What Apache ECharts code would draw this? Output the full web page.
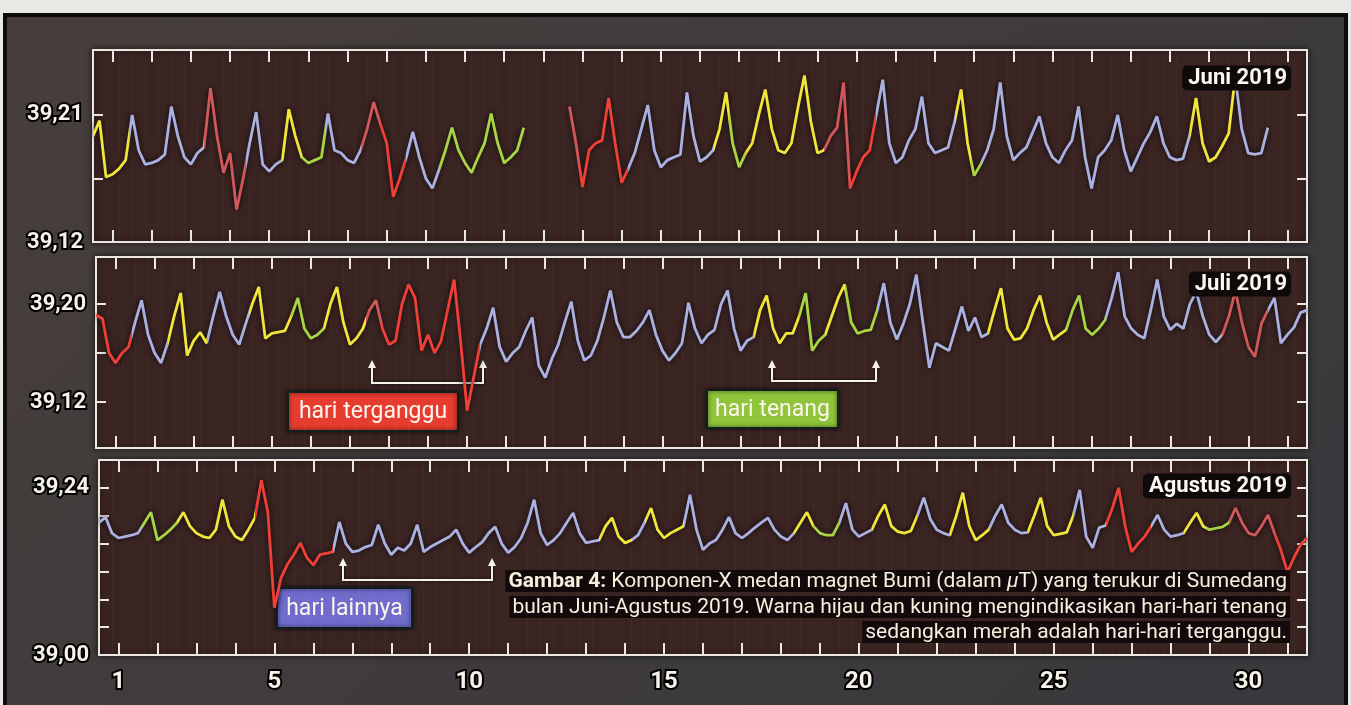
<!DOCTYPE html>
<html>
<head>
<meta charset="utf-8">
<script src="https://cdn.jsdelivr.net/npm/echarts@6/dist/echarts.min.js"></script>
<style>
  html, body { margin: 0; padding: 0; background: #e9e8e5; overflow: hidden; }
  #frame { position: absolute; left: 3px; top: 13px; width: 1345px; height: 700px; box-sizing: border-box;
           border: 4px solid #0d0b0b; border-bottom: none; background: linear-gradient(135deg, #473e3c, #38383c); }
  #chart { position: absolute; left: 0; top: 0; width: 1351px; height: 705px; }
</style>
</head>
<body>
<div id="frame"></div>
<div id="chart"></div>
<script>
'use strict'

// komponen-X (uT), 6 sampel per hari (tiap 4 jam), mulai hari ke-0.5
const STEPS_PER_DAY = 6;

const juniValues = [
  39.195, 39.206, 39.166, 39.168, 39.172, 39.178,
  39.210, 39.185, 39.175, 39.176, 39.178, 39.182,
  39.216, 39.195, 39.180, 39.175, 39.183, 39.187,
  39.229, 39.195, 39.169, 39.183, 39.143, 39.165,
  39.190, 39.212, 39.175, 39.170, 39.175, 39.178,
  39.214, 39.195, 39.180, 39.176, 39.178, 39.180,
  39.211, 39.185, 39.183, 39.178, 39.176, 39.185,
  39.200, 39.219, 39.204, 39.190, 39.152, 39.165,
  39.180, 39.198, 39.180, 39.165, 39.158, 39.171,
  39.185, 39.201, 39.185, 39.176, 39.169, 39.180,
  39.190, 39.211, 39.190, 39.176, 39.180, 39.185,
  39.201, null, null, null, null, null,
  null, 39.216, 39.190, 39.159, 39.185, 39.190,
  39.192, 39.222, 39.190, 39.162, 39.172, 39.183,
  39.200, 39.217, 39.185, 39.173, 39.178, 39.180,
  39.182, 39.226, 39.195, 39.177, 39.180, 39.185,
  39.200, 39.226, 39.190, 39.173, 39.183, 39.190,
  39.210, 39.228, 39.200, 39.185, 39.183, 39.190,
  39.215, 39.238, 39.205, 39.183, 39.185, 39.195,
  39.201, 39.233, 39.158, 39.170, 39.180, 39.185,
  39.210, 39.235, 39.190, 39.176, 39.180, 39.192,
  39.200, 39.223, 39.190, 39.183, 39.185, 39.187,
  39.205, 39.228, 39.190, 39.167, 39.175, 39.185,
  39.200, 39.233, 39.195, 39.178, 39.183, 39.187,
  39.198, 39.209, 39.190, 39.180, 39.176, 39.185,
  39.192, 39.216, 39.180, 39.158, 39.180, 39.185,
  39.192, 39.210, 39.185, 39.170, 39.180, 39.190,
  39.198, 39.209, 39.190, 39.180, 39.178, 39.179,
  39.195, 39.222, 39.190, 39.177, 39.180, 39.188,
  39.197, 39.237, 39.200, 39.183, 39.182, 39.183,
  39.201, null, null, null, null, null,
  null
];

const juliValues = [
  39.191, 39.188, 39.160, 39.152, 39.160, 39.165,
  39.185, 39.203, 39.175, 39.160, 39.152, 39.168,
  39.190, 39.209, 39.158, 39.170, 39.177, 39.168,
  39.190, 39.210, 39.190, 39.175, 39.167, 39.184,
  39.200, 39.214, 39.172, 39.176, 39.177, 39.178,
  39.190, 39.205, 39.180, 39.172, 39.175, 39.180,
  39.200, 39.214, 39.185, 39.167, 39.172, 39.180,
  39.195, 39.203, 39.180, 39.167, 39.170, 39.200,
  39.216, 39.205, 39.162, 39.175, 39.160, 39.170,
  39.195, 39.220, 39.170, 39.113, 39.140, 39.167,
  39.180, 39.197, 39.165, 39.153, 39.160, 39.165,
  39.178, 39.189, 39.150, 39.140, 39.155, 39.167,
  39.185, 39.202, 39.170, 39.154, 39.158, 39.170,
  39.189, 39.211, 39.185, 39.173, 39.173, 39.178,
  39.185, 39.195, 39.175, 39.162, 39.154, 39.160,
  39.168, 39.201, 39.180, 39.168, 39.175, 39.179,
  39.200, 39.211, 39.180, 39.162, 39.170, 39.173,
  39.195, 39.207, 39.180, 39.168, 39.176, 39.176,
  39.190, 39.209, 39.162, 39.170, 39.175, 39.190,
  39.205, 39.216, 39.185, 39.176, 39.178, 39.179,
  39.195, 39.217, 39.185, 39.171, 39.184, 39.200,
  39.224, 39.185, 39.148, 39.168, 39.165, 39.162,
  39.180, 39.198, 39.178, 39.189, 39.173, 39.176,
  39.195, 39.213, 39.180, 39.171, 39.172, 39.180,
  39.195, 39.207, 39.185, 39.171, 39.175, 39.179,
  39.195, 39.207, 39.180, 39.175, 39.180, 39.187,
  39.205, 39.226, 39.190, 39.180, 39.175, 39.172,
  39.195, 39.220, 39.190, 39.179, 39.184, 39.180,
  39.200, 39.210, 39.190, 39.175, 39.169, 39.175,
  39.190, 39.211, 39.185, 39.165, 39.157, 39.184,
  39.195, 39.205, 39.168, 39.175, 39.181, 39.193,
  39.195
];

const agustusValues = [
  39.190, 39.198, 39.175, 39.168, 39.170, 39.172,
  39.175, 39.190, 39.205, 39.165, 39.172, 39.180,
  39.190, 39.205, 39.185, 39.175, 39.170, 39.168,
  39.180, 39.223, 39.185, 39.170, 39.165, 39.180,
  39.197, 39.251, 39.205, 39.068, 39.110, 39.130,
  39.144, 39.161, 39.140, 39.129, 39.144, 39.146,
  39.148, 39.191, 39.160, 39.148, 39.150, 39.155,
  39.158, 39.187, 39.160, 39.144, 39.154, 39.150,
  39.160, 39.187, 39.148, 39.155, 39.160, 39.165,
  39.170, 39.180, 39.160, 39.147, 39.155, 39.162,
  39.175, 39.184, 39.160, 39.147, 39.155, 39.168,
  39.190, 39.223, 39.175, 39.158, 39.165, 39.175,
  39.190, 39.204, 39.175, 39.161, 39.163, 39.165,
  39.185, 39.197, 39.170, 39.161, 39.165, 39.172,
  39.190, 39.211, 39.180, 39.168, 39.175, 39.180,
  39.185, 39.230, 39.180, 39.151, 39.160, 39.165,
  39.180, 39.198, 39.175, 39.168, 39.175, 39.183,
  39.190, 39.197, 39.180, 39.170, 39.165, 39.175,
  39.190, 39.205, 39.185, 39.175, 39.172, 39.172,
  39.190, 39.218, 39.180, 39.170, 39.175, 39.180,
  39.200, 39.216, 39.185, 39.177, 39.175, 39.178,
  39.200, 39.226, 39.195, 39.180, 39.175, 39.172,
  39.200, 39.233, 39.185, 39.165, 39.172, 39.180,
  39.200, 39.216, 39.190, 39.180, 39.175, 39.176,
  39.200, 39.226, 39.185, 39.172, 39.174, 39.176,
  39.200, 39.237, 39.170, 39.154, 39.183, 39.186,
  39.210, 39.240, 39.185, 39.148, 39.160, 39.170,
  39.185, 39.201, 39.180, 39.170, 39.172, 39.175,
  39.190, 39.204, 39.185, 39.180, 39.182, 39.184,
  39.190, 39.211, 39.190, 39.175, 39.172, 39.185,
  39.201, 39.175, 39.150, 39.119, 39.140, 39.158,
  39.168
];

// jenis hari: [sampel awal, sampel akhir, jenis]
// Y kuning / G hijau = tenang, R / P = terganggu, B = lainnya
const juniTypes = [
  [0, 5.5, 'Y'], [5.5, 17, 'B'], [17, 23.5, 'P'], [23.5, 29, 'B'], [29, 32, 'Y'], [32, 35.5, 'G'],
  [35.5, 41, 'B'], [41, 44, 'P'], [44, 48, 'R'], [48, 53, 'B'], [53, 67, 'G'],
  [72, 74.5, 'P'], [74.5, 82, 'R'], [82, 95, 'B'], [95, 97.5, 'Y'], [97.5, 100, 'G'], [100, 112, 'Y'],
  [112, 116, 'P'], [116, 120, 'R'], [120, 132, 'B'], [132, 134.5, 'Y'], [134.5, 136, 'G'],
  [136, 168, 'B'], [168, 175, 'Y'], [175, 187, 'B']
];
const juliTypes = [
  [0, 5.5, 'R'], [5.5, 11, 'B'], [11, 17, 'Y'], [17, 23.5, 'B'], [23.5, 30, 'Y'], [30, 35, 'G'],
  [35, 41.5, 'Y'], [41.5, 44, 'P'], [44, 59, 'R'], [59, 101, 'B'], [101, 108, 'Y'], [108, 112, 'G'],
  [112, 115, 'Y'], [115, 120, 'G'], [120, 137, 'B'], [137, 149, 'Y'], [149, 155, 'G'],
  [155, 173, 'B'], [173, 180, 'P'], [180, 187, 'B']
];
const agustusTypes = [
  [0, 6.5, 'B'], [6.5, 12, 'G'], [12, 18, 'Y'], [18, 24, 'Y'], [24, 36, 'R'], [36, 77, 'B'],
  [77, 82, 'Y'], [82, 84, 'B'], [84, 90, 'Y'], [90, 107, 'B'], [107, 110, 'Y'], [110, 114, 'G'],
  [114, 119, 'B'], [119, 126, 'Y'], [126, 131, 'B'], [131, 137, 'Y'], [137, 143, 'B'],
  [143, 150, 'Y'], [150, 155, 'B'], [155, 162, 'R'], [162, 167, 'B'], [167, 170.5, 'Y'],
  [170.5, 174, 'G'], [174, 181, 'P'], [181, 187, 'R']
];

const dayTicks = [1, 2, 3, 4, 5, 6, 7, 8, 9, 10, 11, 12, 13, 14, 15, 16, 17, 18, 19, 20,
  21, 22, 23, 24, 25, 26, 27, 28, 29, 30, 31];
const dayLabels = [1, 5, 10, 15, 20, 25, 30];

const juniYTicks = [39.165, 39.21], juniYLabels = [39.12, 39.21];
const juliYTicks = [39.12, 39.16, 39.20], juliYLabels = [39.12, 39.20];
const agustusYTicks = [39.04, 39.08, 39.12, 39.16, 39.20, 39.24], agustusYLabels = [39.00, 39.24];

const palette = { Y: '#f1e43a', G: '#a9d443', B: '#aab0e0', R: '#ee4036', P: '#d0575a' };
const WHITE = '#ece8e1';
const FONT = 'Roboto, "Noto Sans", sans-serif';

const panels = [
  { title: 'Juni 2019', values: juniValues, types: juniTypes, min: 39.12, max: 39.256,
    ticks: juniYTicks, labels: juniYLabels, grid: { left: 93, top: 50, width: 1214, height: 192 } },
  { title: 'Juli 2019', values: juliValues, types: juliTypes, min: 39.0825, max: 39.2384,
    ticks: juliYTicks, labels: juliYLabels, grid: { left: 96, top: 257, width: 1211, height: 191 } },
  { title: 'Agustus 2019', values: agustusValues, types: agustusTypes, min: 39.0, max: 39.28,
    ticks: agustusYTicks, labels: agustusYLabels, grid: { left: 99, top: 460, width: 1208, height: 195 } }
];

const sampleX = (i) => 0.5 + i / STEPS_PER_DAY;

let grid = [], xAxis = [], yAxis = [], series = [], visualMap = [];
panels.forEach((p, k) => {
  grid.push(Object.assign({
    show: true, backgroundColor: '#3a2422', borderColor: WHITE, borderWidth: 2,
    shadowColor: 'rgba(0,0,0,0.6)', shadowBlur: 6
  }, p.grid));
  let xBase = {
    type: 'value', gridIndex: k, min: 0.5, max: 31.5,
    axisLine: { show: false, onZero: false }, splitLine: { show: false }
  };
  // sumbu bawah (dengan label hari di panel terakhir)
  xAxis.push(Object.assign({}, xBase, {
    position: 'bottom',
    axisTick: { show: true, inside: true, length: 12, customValues: dayTicks, lineStyle: { color: WHITE, width: 2 } },
    axisLabel: {
      show: k === panels.length - 1, customValues: dayLabels, margin: 15,
      color: '#f6f2ea', fontSize: 24, fontWeight: 'bold', fontFamily: FONT,
      textBorderColor: '#000', textBorderWidth: 4
    }
  }));
  // sumbu atas (hanya tick)
  xAxis.push(Object.assign({}, xBase, {
    position: 'top',
    axisTick: { show: true, inside: true, length: 12, customValues: dayTicks, lineStyle: { color: WHITE, width: 2 } },
    axisLabel: { show: false }
  }));
  // garis vertikal samar di latar
  xAxis.push(Object.assign({}, xBase, {
    position: 'bottom', interval: 1 / 3, min: 0.5,
    axisTick: { show: false }, axisLabel: { show: false },
    splitLine: { show: true, lineStyle: { color: 'rgba(255,235,230,0.035)', width: 1 } }
  }));

  let yBase = {
    type: 'value', gridIndex: k, min: p.min, max: p.max, scale: true,
    axisLine: { show: false }, splitLine: { show: false }
  };
  yAxis.push(Object.assign({}, yBase, {
    position: 'left',
    axisTick: { show: true, inside: true, length: 10, customValues: p.ticks, lineStyle: { color: WHITE, width: 2 } },
    axisLabel: {
      customValues: p.labels, margin: 10,
      formatter: (v) => v.toFixed(2).replace('.', ','),
      color: '#f6f2ea', fontSize: 22, fontWeight: 'bold', fontFamily: FONT,
      textBorderColor: '#000', textBorderWidth: 4
    }
  }));
  yAxis.push(Object.assign({}, yBase, {
    position: 'right',
    axisTick: { show: true, inside: true, length: 10, customValues: p.ticks, lineStyle: { color: WHITE, width: 2 } },
    axisLabel: { show: false }
  }));

  series.push({
    name: p.title, type: 'line', xAxisIndex: k * 3, yAxisIndex: k * 2,
    data: p.values.map((v, i) => [sampleX(i), v == null ? '-' : v]),
    showSymbol: false, symbol: 'none', connectNulls: false, silent: true,
    lineStyle: { width: 2.8, shadowColor: 'rgba(0,0,0,0.9)', shadowBlur: 6 }
  });
  visualMap.push({
    type: 'piecewise', show: false, seriesIndex: k, dimension: 0,
    pieces: p.types.map((t) => ({ gte: sampleX(t[0]), lt: sampleX(t[1]), color: palette[t[2]] })),
    outOfRange: { color: palette.B }
  });
});

// teks dan anotasi
const monthLabel = (text, y) => ({
  type: 'text', x: 1291, y: y, z: 100,
  style: {
    text: text, align: 'right', verticalAlign: 'middle', fill: '#fbf8f2',
    font: 'bold 22px ' + FONT, backgroundColor: '#0e0a0a', padding: [2, 4, 1, 6], borderRadius: 5
  }
});
const tagBox = (text, x, y, w, h, color) => ({
  type: 'group', z: 100, children: [
    { type: 'rect', shape: { x: x, y: y, width: w, height: h },
      style: { fill: color, stroke: '#10201c', lineWidth: 2, shadowColor: 'rgba(0,0,0,0.7)', shadowBlur: 4 } },
    { type: 'text', x: x + w / 2, y: y + h / 2 + 1,
      style: { text: text, align: 'center', verticalAlign: 'middle', fill: '#fbf6ee', font: '23px ' + FONT } }
  ]
});
const bracket = (x1, x2, yTop, yLine) => ({
  type: 'group', z: 100, children: [
    { type: 'polyline', shape: { points: [[x1, yTop + 6], [x1, yLine], [x2, yLine], [x2, yTop + 6]] },
      style: { stroke: '#f4f0ea', lineWidth: 2, fill: null, shadowColor: 'rgba(0,0,0,0.9)', shadowBlur: 3 } },
    { type: 'polygon', shape: { points: [[x1 - 4, yTop + 8], [x1 + 4, yTop + 8], [x1, yTop]] }, style: { fill: '#f4f0ea' } },
    { type: 'polygon', shape: { points: [[x2 - 4, yTop + 8], [x2 + 4, yTop + 8], [x2, yTop]] }, style: { fill: '#f4f0ea' } }
  ]
});
const captionLine = (text, y) => ({
  type: 'text', x: 1290, y: y, z: 100,
  style: {
    text: text, align: 'right', verticalAlign: 'middle', fill: '#f6f0de', font: '21px ' + FONT,
    backgroundColor: 'rgba(14,8,8,0.9)', padding: [1, 3, 0, 3],
    rich: {
      b: { fontWeight: 'bold', fontSize: 21, fontFamily: FONT, fill: '#f6f0de' },
      i: { fontStyle: 'italic', fontSize: 21, fontFamily: FONT, fill: '#f6f0de' }
    }
  }
});

const graphic = [
  monthLabel(panels[0].title, 78),
  monthLabel(panels[1].title, 284),
  monthLabel(panels[2].title, 486),
  bracket(372, 483, 360, 383),
  bracket(772, 876, 360, 381),
  bracket(343, 492, 558, 580),
  tagBox('hari terganggu', 288, 392, 170, 39, '#e63b2f'),
  tagBox('hari tenang', 707, 390, 131, 38, '#90c43a'),
  tagBox('hari lainnya', 277, 588, 135, 40, '#6f6ccb'),
  captionLine('{b|Gambar 4:} Komponen-X medan magnet Bumi (dalam {i|\u03bc}T) yang terukur di Sumedang', 581),
  captionLine('bulan Juni-Agustus 2019. Warna hijau dan kuning mengindikasikan hari-hari tenang', 607),
  captionLine('sedangkan merah adalah hari-hari terganggu.', 632)
];

let myChart = echarts.init(document.getElementById('chart'), null, { renderer: 'canvas' });
myChart.setOption({
  backgroundColor: 'transparent',
  animation: false,
  grid: grid,
  xAxis: xAxis,
  yAxis: yAxis,
  visualMap: visualMap,
  series: series,
  graphic: graphic
});
</script>
</body>
</html>
